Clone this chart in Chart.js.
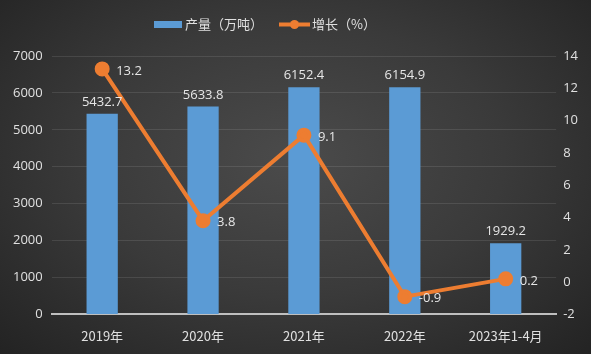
<!DOCTYPE html>
<html>
<head>
<meta charset="utf-8">
<script src="https://cdn.jsdelivr.net/npm/chart.js@4"></script>
<style>
html, body { margin: 0; padding: 0; }
body { width: 591px; height: 354px; overflow: hidden;
  background: radial-gradient(ellipse at 50% 45%, #4b4b4b 0%, #3a3a3a 50%, #232323 100%); }
</style>
</head>
<body>
<canvas id="chart" width="591" height="354"></canvas>
<script>
var years = ["2019年", "2020年", "2021年", "2022年", "2023年1-4月"];
var output = [5432.7, 5633.8, 6152.4, 6154.9, 1929.2];
var growth = [13.2, 3.8, 9.1, -0.9, 0.2];
var seriesNames = ["产量（万吨）", "增长（%）"];

var txtFont = "13px 'Open Sans', 'Noto Sans CJK SC', sans-serif";
var cjkFont = "13px 'Noto Sans CJK SC', sans-serif";

// labels above bars / right of points, plus the legend
var extras = {
  id: "extras",
  afterDatasetsDraw: function (chart) {
    var ctx = chart.ctx;
    ctx.save();
    ctx.font = txtFont;
    ctx.fillStyle = "#e6e6e6";
    chart.getDatasetMeta(0).data.forEach(function (bar, i) {
      ctx.textAlign = "center";
      ctx.textBaseline = "bottom";
      ctx.fillText(output[i].toFixed(1), bar.x, bar.y - 5);
    });
    chart.getDatasetMeta(1).data.forEach(function (pt, i) {
      ctx.textAlign = "left";
      ctx.textBaseline = "middle";
      ctx.fillText(growth[i].toFixed(1), pt.x + 14, pt.y + 2);
    });

    // legend
    ctx.font = cjkFont;
    ctx.textBaseline = "middle";
    ctx.textAlign = "left";
    ctx.fillStyle = "#5b9bd5";
    ctx.fillRect(154, 21, 28, 7);
    ctx.fillStyle = "#e0e0e0";
    ctx.fillText(seriesNames[0], 185, 24.5);
    ctx.strokeStyle = "#ed7d31";
    ctx.lineWidth = 4;
    ctx.beginPath();
    ctx.moveTo(279, 24.5);
    ctx.lineTo(310, 24.5);
    ctx.stroke();
    ctx.fillStyle = "#ed7d31";
    ctx.beginPath();
    ctx.arc(294.5, 24.5, 4.5, 0, Math.PI * 2);
    ctx.fill();
    ctx.fillStyle = "#e0e0e0";
    ctx.fillText(seriesNames[1], 312, 24.5);
    ctx.restore();
  }
};

var ctx = document.getElementById("chart");
var chart = new Chart(ctx, {
  data: {
    labels: years,
    datasets: [{
      type: "bar",
      label: seriesNames[0],
      data: output,
      yAxisID: "y",
      backgroundColor: "#5b9bd5",
      borderWidth: 0,
      barPercentage: 0.31,
      categoryPercentage: 1,
      order: 1
    }, {
      type: "line",
      label: seriesNames[1],
      data: growth,
      yAxisID: "y1",
      borderColor: "#ed7d31",
      backgroundColor: "#ed7d31",
      borderWidth: 4,
      pointRadius: 5.5,
      pointBackgroundColor: "#ed7d31",
      pointBorderColor: "#ed7d31",
      tension: 0,
      order: 0
    }]
  },
  options: {
    responsive: false,
    animation: false,
    layout: { padding: { left: 4, right: 6, top: 56, bottom: 4 } },
    plugins: {
      legend: { display: false },
      tooltip: { enabled: false }
    },
    scales: {
      x: {
        grid: { display: false },
        border: { display: true, color: "#bfbfbf", width: 2 },
        ticks: { color: "#e0e0e0", font: { size: 13, family: "'Noto Sans CJK SC', sans-serif" },
          padding: 6, maxRotation: 0, autoSkip: false }
      },
      y: {
        position: "left",
        min: 0, max: 7000,
        ticks: { stepSize: 1000, color: "#e0e0e0", font: { size: 13, family: "'Open Sans', sans-serif" },
          padding: 9, callback: function (v) { return String(v); } },
        grid: { color: "rgba(255,255,255,0.1)", drawTicks: false },
        border: { display: false }
      },
      y1: {
        position: "right",
        min: -2, max: 14,
        ticks: { stepSize: 2, color: "#e0e0e0", font: { size: 13, family: "'Open Sans', sans-serif" },
          padding: 7, callback: function (v) { return String(v); } },
        grid: { display: false, drawTicks: false },
        border: { display: false }
      }
    }
  },
  plugins: [extras]
});
</script>
</body>
</html>
